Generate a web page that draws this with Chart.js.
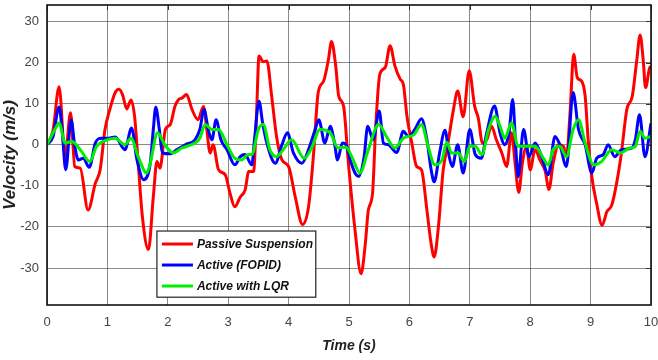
<!DOCTYPE html>
<html>
<head>
<meta charset="utf-8">
<script src="https://cdn.jsdelivr.net/npm/chart.js@4/dist/chart.umd.min.js"></script>
<style>
  html, body { margin: 0; padding: 0; background: #ffffff; }
  #wrap { width: 658px; height: 360px; }
</style>
</head>
<body>
<div id="wrap"><canvas id="velocityChart" width="658" height="360"></canvas></div>
<script>
// Axis tick values
const xTicks = [0, 1, 2, 3, 4, 5, 6, 7, 8, 9, 10];
const yTicks = [-30, -20, -10, 0, 10, 20, 30];

// Passive suspension response: time (s) and velocity (m/s)
const passiveT = [0, 0.1, 0.2, 0.3, 0.39, 0.46, 0.55, 0.68, 0.8, 0.88, 0.96, 1.04, 1.13, 1.19, 1.25, 1.32, 1.39, 1.45,
  1.51, 1.58, 1.68, 1.76, 1.82, 1.87, 1.96, 2.04, 2.12, 2.18, 2.24, 2.31, 2.4, 2.5, 2.59, 2.64, 2.7, 2.75, 2.84,
  2.95, 3.03, 3.11, 3.2, 3.28, 3.34, 3.42, 3.47, 3.51, 3.58, 3.64, 3.72, 3.8, 3.89, 4.0, 4.11, 4.23, 4.33, 4.41,
  4.49, 4.58, 4.66, 4.71, 4.78, 4.83, 4.91, 4.99, 5.1, 5.2, 5.27, 5.32, 5.39, 5.44, 5.51, 5.6, 5.68, 5.76, 5.85,
  5.9, 5.96, 6.04, 6.12, 6.2, 6.29, 6.36, 6.41, 6.48, 6.56, 6.64, 6.73, 6.8, 6.89, 6.99, 7.08, 7.14, 7.21, 7.28,
  7.36, 7.44, 7.53, 7.61, 7.69, 7.75, 7.81, 7.87, 7.94, 8.0, 8.08, 8.16, 8.25, 8.31, 8.38, 8.47, 8.55, 8.6, 8.66,
  8.72, 8.78, 8.85, 8.91, 8.96, 9.02, 9.1, 9.19, 9.27, 9.35, 9.43, 9.51, 9.6, 9.69, 9.76, 9.82, 9.87, 9.91, 9.98, 10];
const passiveV = [0, 3.5, 14.1, -2.9, 7.8, -5.3, -5.7, -15.9, -9.4, -6.1, 3.7, 8.6, 12.7, 13.5, 12.2, 8.7, 10.9, 6.9,
  -4.5, -17.6, -25.5, -12.7, -4.1, -5.7, 3.7, 4.9, 9.4, 11, 11.4, 12.2, 8.6, 6.1, 9.3, 4.5, -2, 0, -6.1,
  -7.3, -11.8, -15.1, -12.7, -11, -6.5, -6.5, 7.8, 21.6, 20.2, 20.4, 11.8, 2, -3.7, -5.3, -12.7, -19.4, -15.1, -2.9,
  12.7, 15.5, 20.8, 25.1, 19.2, 11.8, 9.4, -4.5, -20.8, -31.4, -24.1, -15.9, -11.8, 3.7, 17.1, 18.8, 24.1, 19.2, 15.9,
  14.7, 6.9, 0.4, -5.3, -6.1, -15.9, -24.1, -27.3, -20, -6.1, 0.5, 8.6, 13.1, 6.8, 18, 9.4, 6.5, 0.4, 1.2,
  4.5, 1.2, -2, -5.3, 2.9, -4.5, -11.6, -4.5, -0.4, -6.1, -1.2, -3.7, -6.5, -10.9, -4.5, 0, -0.4, -2.9, 7.8,
  22, 16.3, 15.5, 11.8, 1.2, -7.8, -14.3, -19.6, -16.3, -14.7, -9.4, -2, 8.6, 11.8, 20, 26.7, 20.8, 13.9, 18.8, 19];

// Active suspension with FOPID controller
const fopidT = [0, 0.1, 0.2, 0.25, 0.31, 0.4, 0.46, 0.52, 0.6, 0.7, 0.8, 0.9, 1.02, 1.13, 1.29, 1.4, 1.49, 1.6, 1.71,
  1.76, 1.8, 1.86, 1.91, 2.04, 2.15, 2.29, 2.45, 2.53, 2.6, 2.67, 2.73, 2.8, 2.88, 2.98, 3.11, 3.2, 3.28, 3.39,
  3.44, 3.51, 3.57, 3.64, 3.78, 3.89, 3.98, 4.08, 4.22, 4.33, 4.44, 4.5, 4.6, 4.69, 4.76, 4.81, 4.89, 4.95, 5.02,
  5.1, 5.16, 5.25, 5.31, 5.4, 5.5, 5.57, 5.65, 5.79, 5.9, 5.98, 6.09, 6.2, 6.29, 6.36, 6.41, 6.5, 6.59, 6.66,
  6.71, 6.8, 6.89, 7.0, 7.09, 7.19, 7.28, 7.41, 7.5, 7.58, 7.65, 7.71, 7.76, 7.8, 7.89, 7.98, 8.08, 8.19, 8.3,
  8.41, 8.49, 8.6, 8.71, 8.8, 8.91, 9.02, 9.1, 9.21, 9.29, 9.4, 9.51, 9.68, 9.74, 9.81, 9.9, 10];
const fopidV = [0, 2, 9.2, 3.7, -6.1, 6.1, -0.4, -3.7, -3.3, -5.5, 0.4, 1.6, 1.6, 1.9, -1.2, 4.1, -3.7, -8.5, -4.5,
  3.7, 9.1, 3.7, -2, -2.2, -1.2, 0, 1.2, 3.7, 8.6, 3.7, 1.2, 6.1, 1.2, -1.2, -4.9, -2.9, -2.4, -4.9,
  2, 10.6, 5.3, 0.4, -4.5, 0, 2.9, -2, -4.5, -1.2, 3.7, 6.1, 0.4, 4.5, 0.4, -3.7, 0.4, 0, -3.7,
  -6.9, -7.7, -2.9, 4.5, 1.2, 8.2, 0.4, 0, -1.9, 3.3, 2, 3.7, 6.3, 1.2, -6.1, -9, -2, 3.5, -3,
  -5.3, 0, -6.9, 3.7, -2.4, -3.3, 2.9, 9.4, 2.9, 0, 2.9, 11, -0.4, -7.8, 3.7, -2.9, 0.4, -2.9, -7.3,
  2, 0, -5.3, 12.7, 3.7, 0, -6.9, -3.3, -2.4, 0, -2.9, -1.2, -0.8, 1.2, 7.3, -2.9, 5.2];

// Active suspension with LQR controller
const lqrT = [0, 0.13, 0.2, 0.3, 0.41, 0.55, 0.71, 0.82, 0.96, 1.13, 1.29, 1.39, 1.51, 1.65, 1.71, 1.83, 1.95, 2.09,
  2.23, 2.45, 2.53, 2.62, 2.73, 2.84, 2.98, 3.11, 3.22, 3.33, 3.39, 3.5, 3.58, 3.69, 3.8, 3.91, 4.05, 4.26, 4.38,
  4.52, 4.69, 4.82, 4.95, 5.07, 5.18, 5.32, 5.49, 5.62, 5.76, 5.9, 6.07, 6.2, 6.31, 6.42, 6.54, 6.62, 6.7, 6.81,
  6.91, 7.0, 7.09, 7.2, 7.31, 7.42, 7.5, 7.58, 7.69, 7.8, 7.94, 8.08, 8.22, 8.3, 8.38, 8.49, 8.6, 8.71, 8.8, 8.91,
  9.05, 9.18, 9.35, 9.49, 9.65, 9.74, 9.82, 9.9, 10];
const lqrV = [0, 3.7, 5.3, 0.4, 0.8, -1.2, -4.1, -0.4, 1, 1.6, 0, 1.6, -2.9, -6.9, -4.5, 2.9, 0, -2,
  -0.8, 0.4, 1.6, 4.9, 3.7, 3.7, 0, -3.3, -3.7, -2.4, -2.4, 3.7, 4.9, -1.2, -2.9, -1.2, 1.2, -3.3, -0.8,
  3.7, 2.9, -0.8, -0.6, -3.7, -6.9, -1.2, 4.9, 2, -0.8, 1.6, 2.4, 4.9, -0.4, -4.9, -3.7, 0.6, -2, -2,
  -4.1, -0.4, -0.4, -2.4, 3.7, 6.9, 4.5, 1.6, 5.3, -0.4, -0.4, -0.4, -3.3, -4.9, -1.2, -0.4, -2.9, 3.7, 6.1, 0.4,
  -4.9, -4.1, -1.2, -2, -0.8, -0.4, 3.3, 1.6, 2];

const seriesNames = ['Passive Suspension', 'Active (FOPID)', 'Active with LQR'];
const seriesColors = ['#ff0000', '#0000ff', '#00ee00'];

const FONT = "'Liberation Sans', Arial, Helvetica, sans-serif";

function toPoints(ts, vs) {
  return ts.map((t, i) => ({ x: t, y: vs[i] }));
}

// Black frame around the plot plus small inward ticks on the top and right edges
const framePlugin = {
  id: 'frame',
  afterDatasetsDraw(chart) {
    const { ctx, chartArea: a, scales } = chart;
    ctx.save();
    ctx.strokeStyle = '#333333';
    ctx.lineWidth = 1;
    ctx.beginPath();
    yTicks.forEach(v => {
      const y = Math.round(scales.y.getPixelForValue(v)) + 0.5;
      ctx.moveTo(a.right, y); ctx.lineTo(a.right - 5, y);
    });
    xTicks.forEach(v => {
      const x = Math.round(scales.x.getPixelForValue(v)) + 0.5;
      ctx.moveTo(x, a.top); ctx.lineTo(x, a.top + 5);
    });
    ctx.stroke();
    ctx.strokeStyle = '#111111';
    ctx.lineWidth = 1.6;
    ctx.strokeRect(a.left, a.top, a.right - a.left, a.bottom - a.top);
    ctx.restore();
  }
};

// Boxed legend placed inside the lower part of the plot
const boxLegendPlugin = {
  id: 'boxLegend',
  afterDraw(chart) {
    const { ctx, scales } = chart;
    const left = scales.x.getPixelForValue(1.82);
    const right = scales.x.getPixelForValue(4.45);
    const top = scales.y.getPixelForValue(-21);
    const bottom = scales.y.getPixelForValue(-37.1);
    ctx.save();
    ctx.fillStyle = '#ffffff';
    ctx.fillRect(left, top, right - left, bottom - top);
    ctx.strokeStyle = '#222222';
    ctx.lineWidth = 1.2;
    ctx.strokeRect(left, top, right - left, bottom - top);
    ctx.font = "italic bold 12px " + FONT;
    ctx.textBaseline = 'middle';
    ctx.textAlign = 'left';
    const rowGap = 21;
    chart.data.datasets.forEach((ds, i) => {
      const y = top + 13 + rowGap * i;
      ctx.strokeStyle = ds.borderColor;
      ctx.lineWidth = 3;
      ctx.beginPath();
      ctx.moveTo(left + 5, y);
      ctx.lineTo(left + 36, y);
      ctx.stroke();
      ctx.fillStyle = '#111111';
      ctx.fillText(ds.label, left + 40, y + 1);
    });
    ctx.restore();
  }
};

const datasetDefaults = {
  borderWidth: 3,
  pointRadius: 0,
  fill: false,
  cubicInterpolationMode: 'monotone'
};

new Chart(document.getElementById('velocityChart'), {
  type: 'line',
  data: {
    datasets: [
      Object.assign({ label: seriesNames[0], data: toPoints(passiveT, passiveV), borderColor: seriesColors[0], order: 3 }, datasetDefaults),
      Object.assign({ label: seriesNames[1], data: toPoints(fopidT, fopidV), borderColor: seriesColors[1], order: 2 }, datasetDefaults),
      Object.assign({ label: seriesNames[2], data: toPoints(lqrT, lqrV), borderColor: seriesColors[2], order: 1 }, datasetDefaults)
    ]
  },
  options: {
    responsive: false,
    animation: false,
    devicePixelRatio: 1,
    layout: { padding: { left: 0, top: 5, right: 7, bottom: 0 } },
    plugins: { legend: { display: false }, tooltip: { enabled: false } },
    scales: {
      x: {
        type: 'linear',
        min: 0,
        max: 10,
        afterBuildTicks: s => { s.ticks = xTicks.map(v => ({ value: v })); },
        afterFit: s => { s.height = 55; s.paddingLeft = 0; s.paddingRight = 0; },
        grid: { color: 'rgba(60,60,60,0.6)', lineWidth: 1, drawTicks: false },
        border: { display: false },
        ticks: { color: '#444444', font: { family: FONT, size: 13 }, padding: 10, maxRotation: 0 },
        title: {
          display: true,
          text: 'Time (s)',
          color: '#222222',
          font: { family: FONT, size: 14, weight: 'bold', style: 'italic' },
          padding: { top: 0, bottom: 5 }
        }
      },
      y: {
        type: 'linear',
        min: -39,
        max: 34,
        afterBuildTicks: s => { s.ticks = yTicks.map(v => ({ value: v })); },
        afterFit: s => { s.width = 47; s.paddingTop = 0; s.paddingBottom = 0; },
        grid: { color: 'rgba(60,60,60,0.6)', lineWidth: 1, drawTicks: false },
        border: { display: false },
        ticks: { color: '#444444', font: { family: FONT, size: 13 }, padding: 8 },
        title: {
          display: true,
          text: 'Velocity (m/s)',
          color: '#222222',
          font: { family: FONT, size: 17, weight: 'bold', style: 'italic' },
          padding: { top: 0, bottom: 0 }
        }
      }
    }
  },
  plugins: [framePlugin, boxLegendPlugin]
});
</script>
</body>
</html>
